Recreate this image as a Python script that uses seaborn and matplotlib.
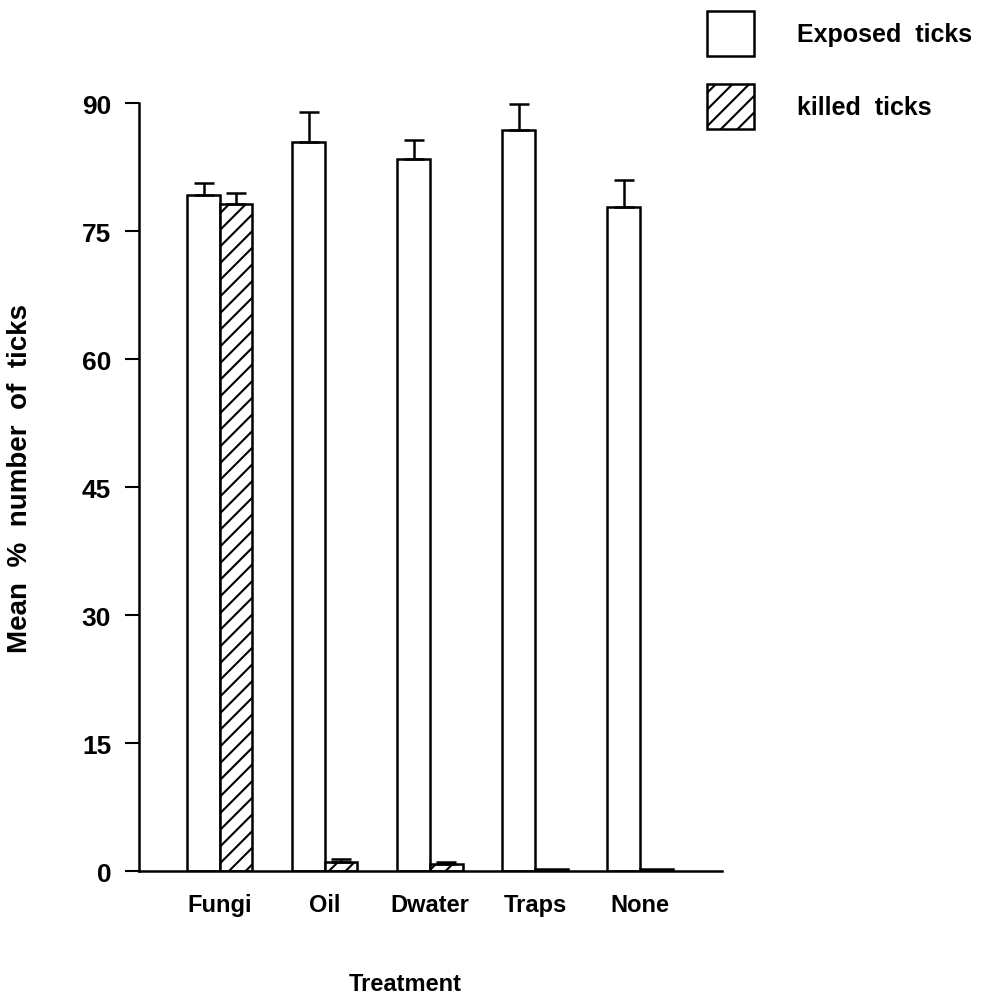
import numpy as np
import pandas as pd
import matplotlib
matplotlib.use("Agg")
import matplotlib.pyplot as plt
import seaborn as sns
from matplotlib.patches import Patch

categories = ["Fungi", "Oil", "Dwater", "Traps", "None"]
exposed = [79.2, 85.4, 83.4, 86.8, 77.8]
exposed_err = [1.4, 3.6, 2.3, 3.1, 3.2]
killed = [78.2, 1.0, 0.8, 0.2, 0.2]
killed_err = [1.3, 0.4, 0.3, 0.0, 0.0]
series = ["Exposed ticks", "killed ticks"]
yticks = [0, 15, 30, 45, 60, 75, 90]

sns.set_theme(style="white")
plt.rcParams["font.family"] = ["Liberation Sans", "DejaVu Sans"]
plt.rcParams["font.weight"] = "bold"
plt.rcParams["text.color"] = "black"
plt.rcParams["axes.labelcolor"] = "black"
plt.rcParams["xtick.color"] = "black"
plt.rcParams["ytick.color"] = "black"
plt.rcParams["hatch.linewidth"] = 1.5

df = pd.DataFrame({
    "Treatment": categories * 2,
    "value": exposed + killed,
    "series": [series[0]] * 5 + [series[1]] * 5,
})

fig = plt.figure(figsize=(10.04, 10.03), dpi=100)
ax = fig.add_axes([0.1384, 0.1306, 0.5807, 0.7657])

sns.barplot(data=df, x="Treatment", y="value", hue="series", order=categories,
            hue_order=series, palette=["white", "white"], edgecolor="black",
            linewidth=1.8, width=0.62, errorbar=None, legend=False, ax=ax,
            saturation=1)

n = len(categories)
patches = ax.patches[:2 * n]
for i, p in enumerate(patches):
    if i >= n:
        p.set_hatch("//")
errs = exposed_err + killed_err
for p, e in zip(patches, errs):
    cx = p.get_x() + p.get_width() / 2
    h = p.get_height()
    if e > 0:
        ax.errorbar([cx], [h], yerr=[[0], [e]], fmt="none", ecolor="black",
                    elinewidth=1.8, capsize=7, capthick=1.8, clip_on=False,
                    zorder=3)

ax.set_ylim(0, 90)
ax.set_xlim(-0.77, 4.78)
ax.set_yticks(yticks)
ax.tick_params(axis="y", which="major", length=10, width=1.5, direction="out",
               pad=10, labelsize=19, left=True)
ax.tick_params(axis="x", length=0, pad=16, labelsize=17)
for s in ["top", "right"]:
    ax.spines[s].set_visible(False)
for s in ["left", "bottom"]:
    ax.spines[s].set_color("black")
    ax.spines[s].set_linewidth(1.8)

ax.set_xlabel("Treatment", fontsize=17, fontweight="bold")
ax.xaxis.set_label_coords(0.456, -0.147)
ax.xaxis.label.set_va("center")
ax.set_ylabel("Mean  %  number  of  ticks", fontsize=20, fontweight="bold")
ax.yaxis.set_label_coords(-0.204, 0.513)
ax.yaxis.label.set_va("center")

handles = [Patch(facecolor="white", edgecolor="black", linewidth=1.8),
           Patch(facecolor="white", edgecolor="black", linewidth=1.8, hatch="//")]
fig.legend(handles, ["Exposed  ticks", "killed  ticks"], loc="upper left",
           bbox_to_anchor=(0.704, 0.988),
           frameon=False, fontsize=18, handlelength=1.9, handleheight=2.4,
           handletextpad=1.7, labelspacing=1.1, borderpad=0, borderaxespad=0)

fig.savefig("out.png", dpi=100, facecolor="white")
